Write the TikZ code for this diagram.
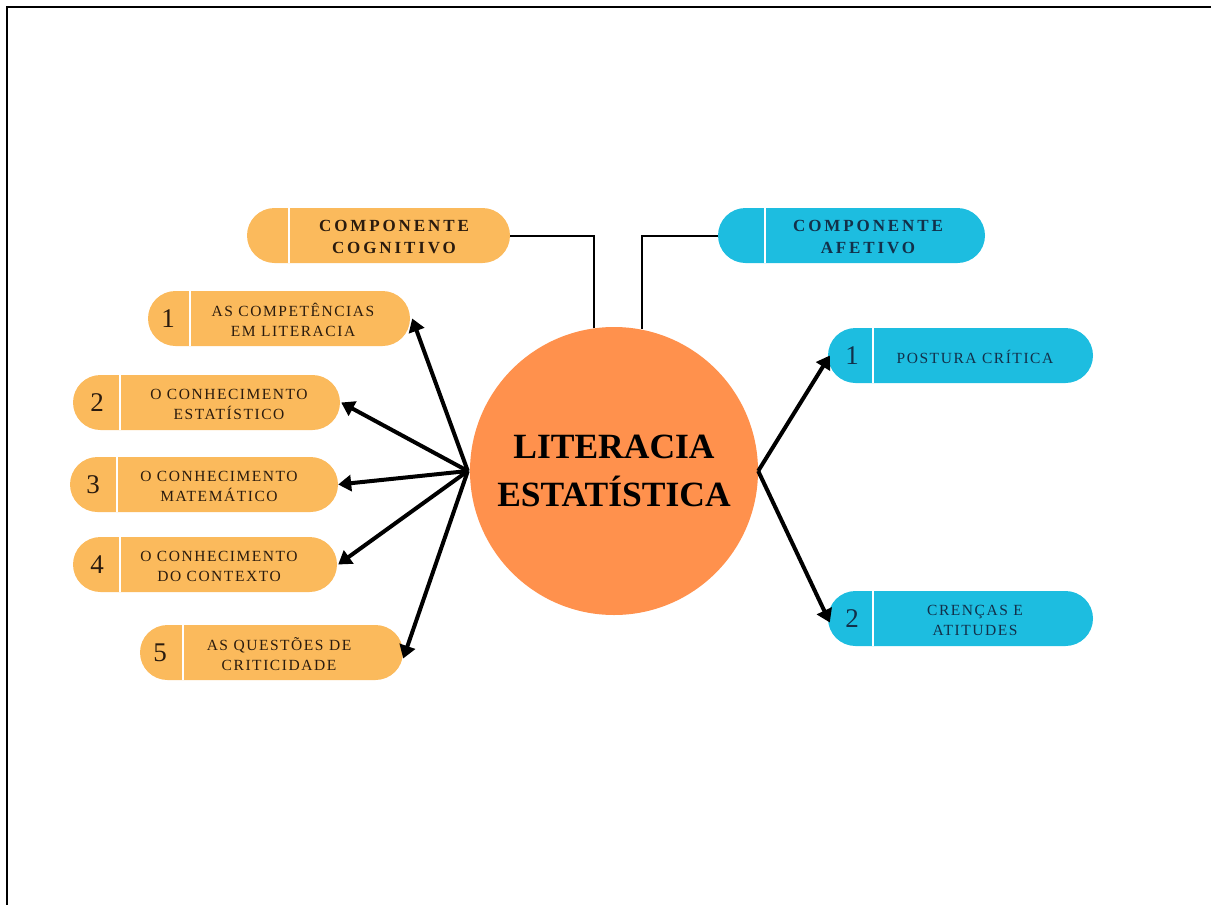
\documentclass[tikz,border=0pt]{standalone}
\usepackage{fontspec}
\setmainfont{Liberation Serif}
\newfontfamily\spacedfont[LetterSpace=10]{Liberation Serif}
\newfontfamily\headfont[LetterSpace=17]{Liberation Serif}
\usetikzlibrary{arrows.meta}
\definecolor{boxorange}{HTML}{FBBA5C}
\definecolor{circorange}{HTML}{FF914D}
\definecolor{boxcyan}{HTML}{1DBDE0}
\definecolor{navytext}{HTML}{12304A}
\definecolor{browntext}{HTML}{2A1B0E}
\begin{document}
\begin{tikzpicture}[x=1pt,y=-1pt,
  pill/.style={rectangle, rounded corners=27.5pt, minimum height=55pt, inner sep=0pt, draw=none},
  opill/.style={pill, fill=boxorange},
  cpill/.style={pill, fill=boxcyan},
  divider/.style={white, line width=2.5pt},
  numtxt/.style={font=\fontsize{27}{27}\selectfont, inner sep=0pt},
  boxtxt/.style={font=\spacedfont\fontsize{15.5}{20}\selectfont, align=center, inner sep=0pt},
  headtxt/.style={font=\headfont\bfseries\fontsize{17}{22}\selectfont, align=center, inner sep=0pt},
  arr/.style={line width=4pt, -{Triangle[length=13pt,width=16pt]}},
  link/.style={line width=2pt}
]
\useasboundingbox (0,0) rectangle (1211,905);
\draw[line width=2.5pt] (7,905) -- (7,7) -- (1211,7);

% center
\node[circle, fill=circorange, minimum size=288pt, inner sep=0pt,
      font=\bfseries\fontsize{35.5}{48}\selectfont, align=center, text=black] (c) at (614,471) {LITERACIA\\ESTATÍSTICA};

% headings
\node[opill, minimum width=263pt] (cog) at (378.5,235.5) {};
\draw[divider] (289,208) -- (289,263);
\node[headtxt, text=browntext] (cogt) at (394,237) {COMPONENTE\\COGNITIVO};

\node[cpill, minimum width=267pt] (aff) at (851.5,235.5) {};
\draw[divider] (765,208) -- (765,263);
\node[headtxt, text=navytext] (afft) at (868,237) {COMPONENTE\\AFETIVO};

% left boxes
\node[opill, minimum width=262pt] (l1) at (279,318.5) {};
\draw[divider] (190,291) -- (190,346);
\node[numtxt, text=browntext] (l1n) at (168,319) {1};
\node[boxtxt, text=browntext] (l1t) at (293,320) {AS COMPETÊNCIAS\\EM LITERACIA};

\node[opill, minimum width=267pt] (l2) at (206.5,402.5) {};
\draw[divider] (120,375) -- (120,430);
\node[numtxt, text=browntext] (l2n) at (97,403) {2};
\node[boxtxt, text=browntext] (l2t) at (229,404) {O CONHECIMENTO\\ESTATÍSTICO};

\node[opill, minimum width=268pt] (l3) at (204,484.5) {};
\draw[divider] (117,457) -- (117,512);
\node[numtxt, text=browntext] (l3n) at (93,485) {3};
\node[boxtxt, text=browntext] (l3t) at (219,486) {O CONHECIMENTO\\MATEMÁTICO};

\node[opill, minimum width=264pt] (l4) at (205,564.5) {};
\draw[divider] (120,537) -- (120,592);
\node[numtxt, text=browntext] (l4n) at (97,565) {4};
\node[boxtxt, text=browntext] (l4t) at (219,566) {O CONHECIMENTO\\DO CONTEXTO};

\node[opill, minimum width=263pt] (l5) at (271.5,652.5) {};
\draw[divider] (183,625) -- (183,680);
\node[numtxt, text=browntext] (l5n) at (160,653) {5};
\node[boxtxt, text=browntext] (l5t) at (279,654) {AS QUESTÕES DE\\CRITICIDADE};

% right boxes
\node[cpill, minimum width=265pt] (r1) at (960.5,355.5) {};
\draw[divider] (873,328) -- (873,383);
\node[numtxt, text=navytext] (r1n) at (852,356) {1};
\node[boxtxt, text=navytext] (r1t) at (975,357) {POSTURA CRÍTICA};

\node[cpill, minimum width=265pt] (r2) at (960.5,618.5) {};
\draw[divider] (873,591) -- (873,646);
\node[numtxt, text=navytext] (r2n) at (852,619) {2};
\node[boxtxt, text=navytext] (r2t) at (975,620) {CRENÇAS E\\ATITUDES};

% connectors
\draw[link] (cog.east) -| (c.98);
\draw[link] (aff.west) -| (c.79);

\coordinate (hub) at ([xshift=-2pt]c.west);
\draw[arr] (hub) -- ([xshift=2pt]l1.east);
\draw[arr] (hub) -- ([xshift=1pt]l2.east);
\draw[arr] (hub) -- (l3.east);
\draw[arr] (hub) -- ([xshift=1pt]l4.east);
\draw[arr] (hub) -- ([yshift=-6pt]l5.east);
\draw[arr] (c.east) -- ([xshift=2pt]r1.west);
\draw[arr] (c.east) -- ([xshift=2pt,yshift=-4pt]r2.west);
\end{tikzpicture}
\end{document}
